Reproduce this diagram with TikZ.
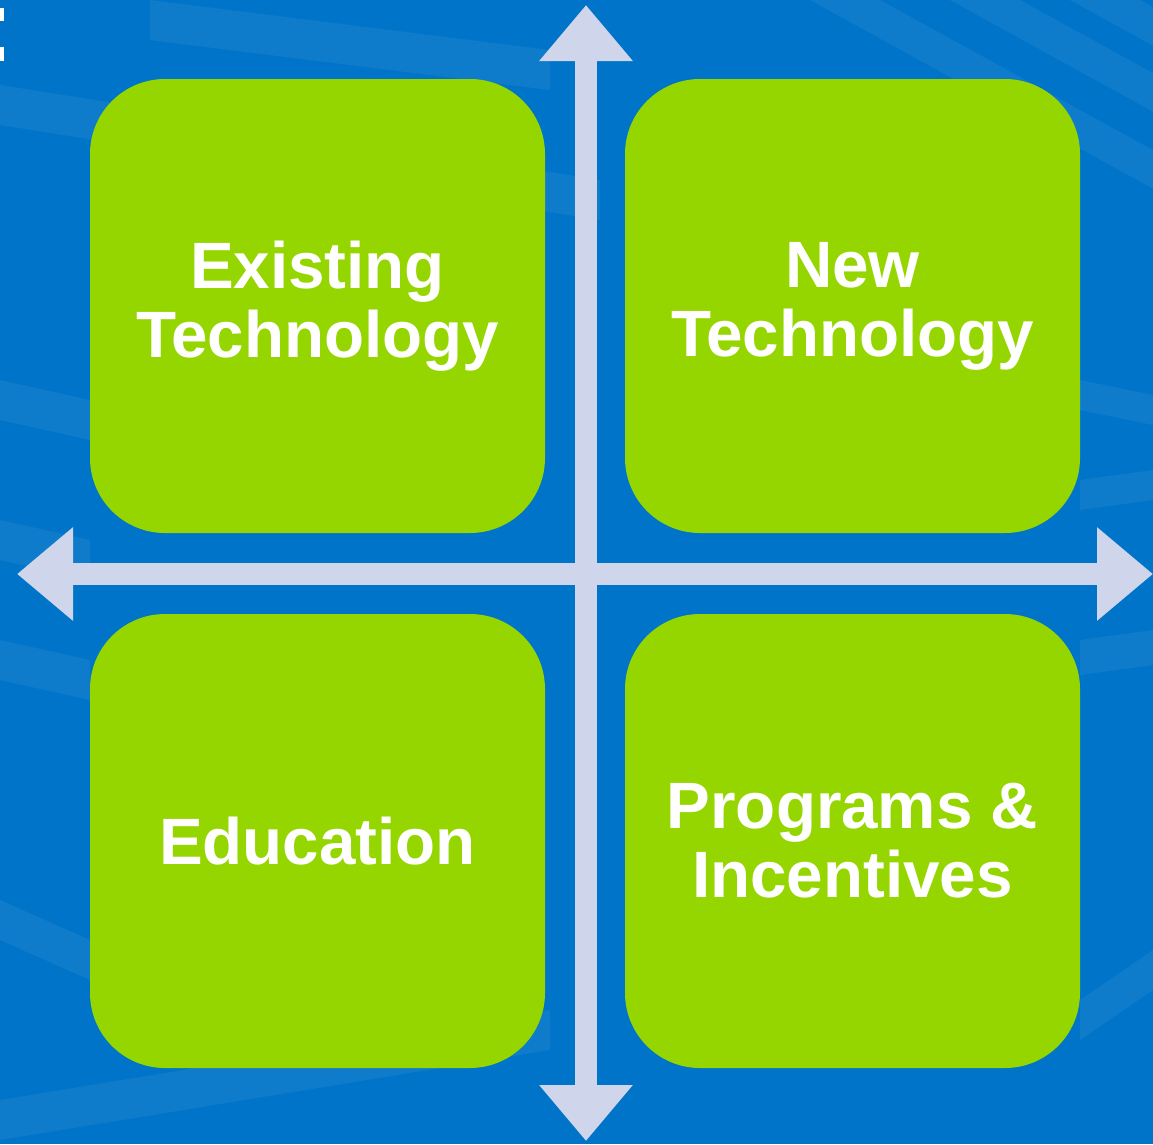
\documentclass[tikz,border=0pt]{standalone}
\usepackage{fontspec}
\setmainfont{Liberation Sans}
\usetikzlibrary{arrows.meta, positioning}

\definecolor{bgblue}{HTML}{0074C8}
\definecolor{quadgreen}{HTML}{95D600}
\definecolor{axisgrey}{HTML}{CFD5EA}

\begin{document}
\begin{tikzpicture}[
every node/.append style = {inner sep=0pt, outer sep=0pt},
node distance = 1.62cm and 1.6cm,
  quad/.style = {rectangle, rounded corners=1.5cm, fill=quadgreen,
                 minimum width=9.1cm, minimum height=9.08cm,
                 text=white, align=center,
                 font=\bfseries\fontsize{37.3}{39.3}\selectfont},
  axis/.style = {line width=4.4mm, axisgrey,
                 {Triangle[length=11.2mm,width=18mm]}-{Triangle[length=11.2mm,width=18mm]}},
  band/.style = {fill=white, opacity=0.06}
                    ]
% background
\fill[bgblue] (0,0) rectangle (23.06,-22.88);
\useasboundingbox (0,0) rectangle (23.06,-22.88);
\foreach \a/\b/\c/\d in {0/1.7/12/3.6, 0/7.6/1.8/8.0, 0/10.4/1.8/10.8,
                         0/12.8/1.8/13.2, 0/18.0/1.8/18.8, 0/22.0/11/20.2,
                         3/0/11/1.0}
  \fill[band] (\a,-\b) -- (\c,-\d) -- (\c,-\d-0.8) -- (\a,-\b-0.8) -- cycle;
\foreach \a in {16.2, 19.0, 21.4}
  \fill[band] (\a,0) -- (\a+1.4,0) -- (23.06,{-(23.06-\a-1.4)*0.55})
              -- (23.06,{-(23.06-\a)*0.55}) -- cycle;
\fill[band] (21.6,-7.6) -- (23.06,-7.9) -- (23.06,-8.5) -- (21.6,-8.2) -- cycle;
\fill[band] (21.6,-9.6) -- (23.06,-9.4) -- (23.06,-10.0) -- (21.6,-10.2) -- cycle;
\fill[band] (21.6,-12.8) -- (23.06,-12.6) -- (23.06,-13.3) -- (21.6,-13.5) -- cycle;
\fill[band] (21.6,-20.0) -- (23.06,-19.0) -- (23.06,-19.8) -- (21.6,-20.8) -- cycle;
% cut-off marks at the left edge
\fill[white] (0,-0.16) rectangle (0.08,-0.42);
\fill[white] (0,-0.94) rectangle (0.08,-1.22);
%nodes
\node (exist)   [quad] at (6.35,-6.12)  {Existing\\Technology};
\node (newtech) [quad, right=of exist]  {New\\Technology};
\node (educ)    [quad, below=of exist]  {Education};
\node (progs)   [quad, below=of newtech] {Programs \&\\Incentives};
% axes
\coordinate (up)    at (11.72,-0.1);
\coordinate (down)  at (11.72,-22.82);
\coordinate (west)  at (0.34,-11.48);
\coordinate (east)  at (23.06,-11.48);
\draw[axis] (west) -- (east);
\draw[axis] (down) -- (up);
\end{tikzpicture}
\end{document}
